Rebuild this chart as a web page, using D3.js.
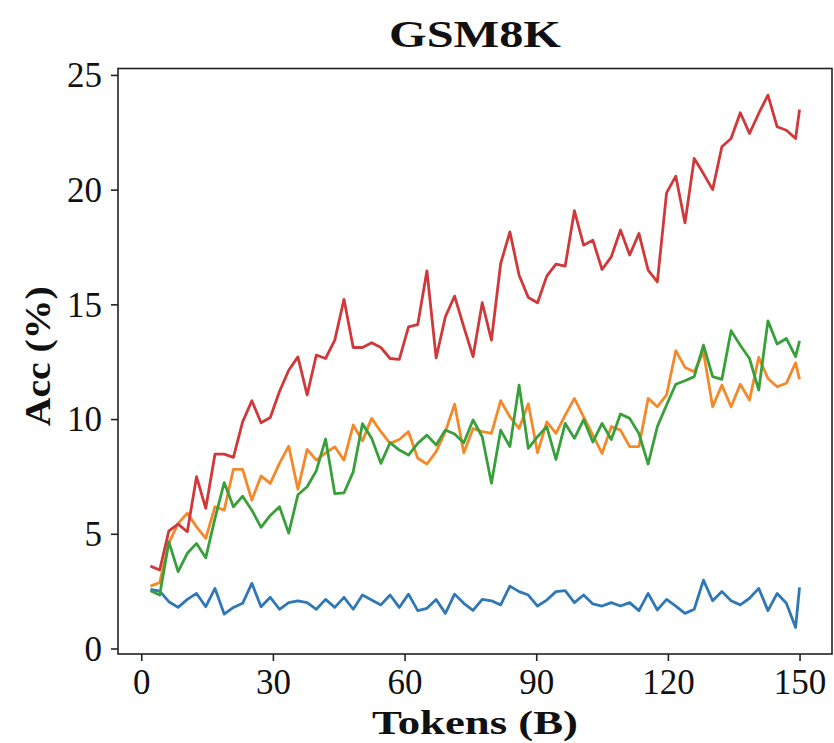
<!DOCTYPE html>
<html><head><meta charset="utf-8">
<script src="https://cdn.jsdelivr.net/npm/d3@7"></script>
<style>body{margin:0;background:#fff}</style>
</head><body><svg id="c" width="834" height="743"></svg>
<script>
const title = "GSM8K";
const xLabel = "Tokens (B)";
const yLabel = "Acc (%)";
const tokens = [2.1,4.2,6.3,8.4,10.5,12.6,14.7,16.8,18.9,21,23.1,25.2,27.3,29.4,31.5,33.6,35.7,37.8,39.9,42,44.1,46.2,48.3,50.4,52.5,54.6,56.7,58.8,60.9,63,65.1,67.2,69.3,71.4,73.5,75.6,77.7,79.8,81.9,84,86.1,88.2,90.3,92.4,94.5,96.6,98.7,100.8,102.9,105,107.1,109.2,111.3,113.4,115.5,117.6,119.7,121.8,123.9,126,128.1,130.2,132.3,134.4,136.5,138.6,140.7,142.8,144.9,147,149.1,150];
const blueValues = [2.58,2.5,2.04,1.79,2.14,2.4,1.82,2.62,1.5,1.79,1.97,2.84,1.82,2.23,1.71,2.0,2.08,2.0,1.71,2.14,1.79,2.23,1.71,2.33,2.11,1.9,2.33,1.79,2.37,1.65,1.75,2.14,1.53,2.37,1.97,1.66,2.14,2.08,1.9,2.72,2.48,2.33,1.85,2.11,2.48,2.52,2.0,2.33,1.94,1.85,2.0,1.85,2.0,1.65,2.4,1.68,2.14,1.85,1.53,1.71,2.98,2.08,2.48,2.08,1.9,2.19,2.62,1.65,2.4,1.97,0.92,2.66];
const orangeValues = [2.72,2.87,4.6,5.45,5.9,5.3,4.8,6.18,6.03,7.81,7.81,6.47,7.52,7.2,8.07,8.82,6.94,8.68,8.21,8.53,8.79,8.21,9.74,9.05,10.03,9.45,8.94,9.11,9.45,8.29,8.04,8.58,9.45,10.65,8.53,9.59,9.45,9.38,10.8,10.1,9.59,10.67,8.53,9.88,9.38,10.17,10.9,10.1,9.3,8.5,9.67,9.52,8.8,8.8,10.9,10.54,11.05,12.98,12.25,12.06,12.93,10.54,11.48,10.54,11.52,10.83,12.69,11.77,11.41,11.56,12.45,11.73];
const greenValues = [2.52,2.33,4.65,3.35,4.15,4.58,3.95,5.67,7.23,6.18,6.64,6.03,5.28,5.8,6.18,5.03,6.7,7.05,7.75,9.13,6.75,6.78,7.7,9.8,9.16,8.07,8.97,8.65,8.43,8.94,9.3,8.87,9.52,9.35,8.97,9.96,9.23,7.2,9.52,8.8,11.48,8.72,9.23,9.67,8.24,9.81,9.16,9.98,9.0,9.81,9.11,10.22,10.03,9.37,8.04,9.67,10.61,11.52,11.67,11.85,13.22,11.85,11.73,13.85,13.22,12.64,11.26,14.28,13.27,13.51,12.72,13.41];
const redValues = [3.59,3.42,5.13,5.42,5.09,7.49,6.11,8.47,8.47,8.33,9.88,10.8,9.84,10.07,11.2,12.13,12.71,11.05,12.79,12.64,13.44,15.22,13.12,13.12,13.33,13.12,12.64,12.6,14.02,14.12,16.46,12.67,14.46,15.36,14.02,12.72,15.07,13.44,16.78,18.16,16.27,15.3,15.07,16.23,16.75,16.67,19.08,17.58,17.8,16.52,17.07,18.24,17.15,18.09,16.49,15.98,19.86,20.59,18.55,21.36,20.7,20.0,21.87,22.23,23.35,22.45,23.32,24.12,22.74,22.59,22.23,23.49];
const xTicks = [0,30,60,90,120,150];
const yTicks = [0,5,10,15,20,25];
const seriesNames = ["blue","orange","green","red"];
const seriesColors = ["#2f77b5","#f5892a","#38a03a","#d0383a"];
const seriesValues = [blueValues, orangeValues, greenValues, redValues];

const svg = d3.select("#c");
const L = 118, R = 832, T = 68.5, B = 654;
const serif = "'Liberation Serif','Times New Roman',serif";

const xmin = d3.min(tokens), xmax = d3.max(tokens), xp = 0.05*(xmax-xmin);
const allV = seriesValues.flat();
const ymin = d3.min(allV), ymax = d3.max(allV), yp = 0.05*(ymax-ymin);
const x = d3.scaleLinear().domain([xmin-xp, xmax+xp]).range([L, R]);
const y = d3.scaleLinear().domain([ymin-yp, ymax+yp]).range([B, T]);

const line = d3.line().x((d,i)=>x(tokens[i])).y(d=>y(d));
const plot = svg.append("g");
seriesValues.forEach((vals, i) => {
  plot.append("path").datum(vals).attr("d", line)
    .attr("fill","none").attr("stroke", seriesColors[i])
    .attr("stroke-width", 2.8).attr("stroke-linejoin","round").attr("stroke-linecap","butt");
});

const xAxis = svg.append("g").attr("transform",`translate(0,${B})`)
  .call(d3.axisBottom(x).tickValues(xTicks).tickSize(7).tickSizeOuter(0).tickPadding(8));
const yAxis = svg.append("g").attr("transform",`translate(${L},0)`)
  .call(d3.axisLeft(y).tickValues(yTicks).tickSize(7).tickSizeOuter(0).tickPadding(9));
[xAxis, yAxis].forEach(a => {
  a.select(".domain").remove();
  a.selectAll(".tick line").attr("stroke","#222").attr("stroke-width",1.6);
  a.selectAll(".tick text").attr("fill","#111").style("font-family", serif).style("font-size","35px");
});
yAxis.selectAll(".tick text").attr("dy","0.34em");

svg.append("rect").attr("x",L).attr("y",T).attr("width",R-L).attr("height",B-T)
  .attr("fill","none").attr("stroke","#222").attr("stroke-width",1.6);

svg.append("text").attr("x",(L+R)/2).attr("y",47).attr("text-anchor","middle")
  .attr("textLength",172).attr("lengthAdjust","spacingAndGlyphs")
  .style("font-family",serif).style("font-weight","bold").style("font-size","37px").attr("fill","#111").text(title);
svg.append("text").attr("x",(L+R)/2).attr("y",734).attr("text-anchor","middle")
  .attr("textLength",206).attr("lengthAdjust","spacingAndGlyphs")
  .style("font-family",serif).style("font-weight","bold").style("font-size","34px").attr("fill","#111").text(xLabel);
svg.append("text").attr("transform",`translate(50,${(T+B)/2-5}) rotate(-90)`).attr("text-anchor","middle")
  .attr("textLength",140).attr("lengthAdjust","spacingAndGlyphs")
  .style("font-family",serif).style("font-weight","bold").style("font-size","36px").attr("fill","#111").text(yLabel);
</script></body></html>
